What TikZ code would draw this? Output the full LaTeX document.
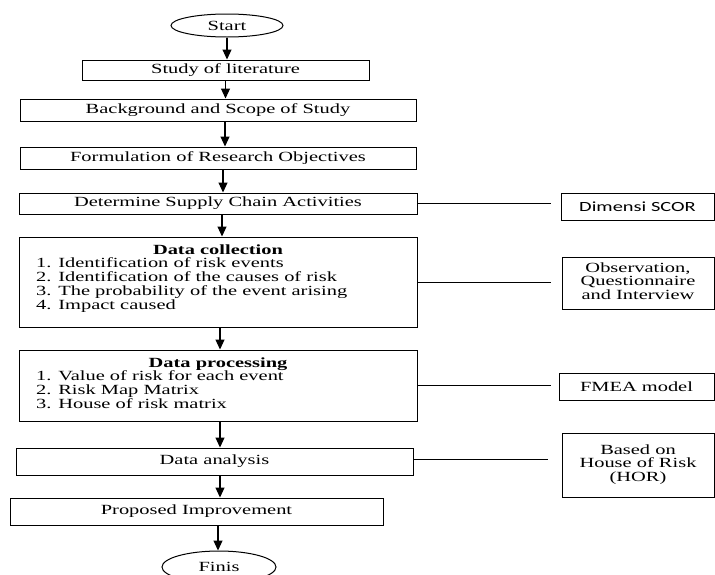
\documentclass[tikz,border=0pt]{standalone}
\usepackage{fontspec}
\setmainfont{Liberation Serif}
\newfontfamily\calib{Carlito}
\usetikzlibrary{shapes.geometric,arrows.meta}
\newcommand{\sx}[1]{\scalebox{1.46}[1]{#1}}
\begin{document}
\begin{tikzpicture}[x=1pt,y=-1pt,
  box/.style={draw, line width=1pt, rectangle, inner sep=0pt, font=\fontsize{14}{14}\selectfont},
  oval/.style={draw, ellipse, line width=1pt, inner sep=0pt, font=\fontsize{14}{14}\selectfont},
  txt/.style={inner sep=0pt, font=\fontsize{14}{14}\selectfont},
  arr/.style={line width=1.1pt, -{Triangle[length=10pt,width=9pt]}},
  link/.style={line width=1pt}]
\useasboundingbox (0,0) rectangle (715,574);
\clip (0,0) rectangle (715,574);
% main column
\node[oval, minimum width=112pt, minimum height=23pt] (start) at (227,25.5) {\sx{Start}};
\node[box, minimum width=287pt, minimum height=20pt] (study) at (225.5,70) {\sx{Study of literature}};
\node[box, minimum width=396pt, minimum height=22pt] (bg) at (218,110) {\sx{Background and Scope of Study}};
\node[box, minimum width=396pt, minimum height=22pt] (form) at (218,158) {\sx{Formulation of Research Objectives}};
\node[box, minimum width=398pt, minimum height=21pt] (det) at (218,203.5) {\sx{Determine Supply Chain Activities}};
\node[box, minimum width=398pt, minimum height=90pt] (dc) at (218,282) {};
\node[txt, anchor=base] (dct) at (218,254.5) {\sx{\textbf{Data collection}}};
\node[txt, anchor=base west] (dcl) at (36,267.5) {\sx{\begin{tabular}[t]{@{}l@{}}1. Identification of risk events\\2. Identification of the causes of risk\\3. The probability of the event arising\\4. Impact caused\end{tabular}}};
\node[box, minimum width=398pt, minimum height=71pt] (dp) at (218,385.5) {};
\node[txt, anchor=base] (dpt) at (218,367.5) {\sx{\textbf{Data processing}}};
\node[txt, anchor=base west] (dpl) at (36,380.5) {\sx{\begin{tabular}[t]{@{}l@{}}1. Value of risk for each event\\2. Risk Map Matrix\\3. House of risk matrix\end{tabular}}};
\node[box, minimum width=397pt, minimum height=27pt] (da) at (214.5,461.5) {\sx{Data analysis}};
\node[box, minimum width=373pt, minimum height=27pt] (pi) at (196.5,511.5) {\sx{Proposed Improvement}};
\node[oval, minimum width=114pt, minimum height=32pt] (fin) at (219,567) {\sx{Finis}};
% right column
\node[box, minimum width=153pt, minimum height=27pt] (scor) at (637.5,206.5) {\sx{\calib Dimensi SCOR}};
\node[box, minimum width=152pt, minimum height=52pt] (obs) at (638,283) {\sx{\fontsize{14}{12}\selectfont\begin{tabular}{@{}c@{}}Observation,\\Questionnaire\\and Interview\end{tabular}}};
\node[box, minimum width=155pt, minimum height=27pt] (fmea) at (636.5,386.5) {\sx{FMEA model}};
\node[box, minimum width=152pt, minimum height=64pt] (hor) at (638,465) {\sx{\fontsize{14}{13.5}\selectfont\begin{tabular}{@{}c@{}}Based on\\House of Risk\\(HOR)\end{tabular}}};
% arrows
\draw[arr] (start.south) -- (start.south |- study.north);
\draw[arr] (study.south) -- (study.south |- bg.north);
\draw[arr] ([xshift=7pt]bg.south) -- ([xshift=7pt]bg.south |- form.north);
\draw[arr] ([xshift=5pt]form.south) -- ([xshift=5pt]form.south |- det.north);
\draw[arr] ([xshift=4pt]det.south) -- ([xshift=4pt]det.south |- dc.north);
\draw[arr] ([xshift=2pt]dc.south) -- ([xshift=2pt]dc.south |- dp.north);
\draw[arr] ([xshift=2pt]dp.south) -- ([xshift=2pt]dp.south |- da.north);
\draw[arr] ([xshift=5.5pt]da.south) -- ([xshift=5.5pt]da.south |- pi.north);
\draw[arr] ([xshift=21.5pt]pi.south) -- ([xshift=21.5pt]pi.south |- fin.north);
% links
\draw[link] (det.east) -- ([xshift=-10pt]scor.west |- det.east);
\draw[link] (dc.east) -- ([xshift=-11pt]obs.west |- dc.east);
\draw[link] (dp.east) -- ([xshift=-8pt]fmea.west |- dp.east);
\draw[link] ([yshift=2.5pt]da.east) -- ([xshift=-14pt,yshift=2.5pt]hor.west |- da.east);
\end{tikzpicture}
\end{document}
